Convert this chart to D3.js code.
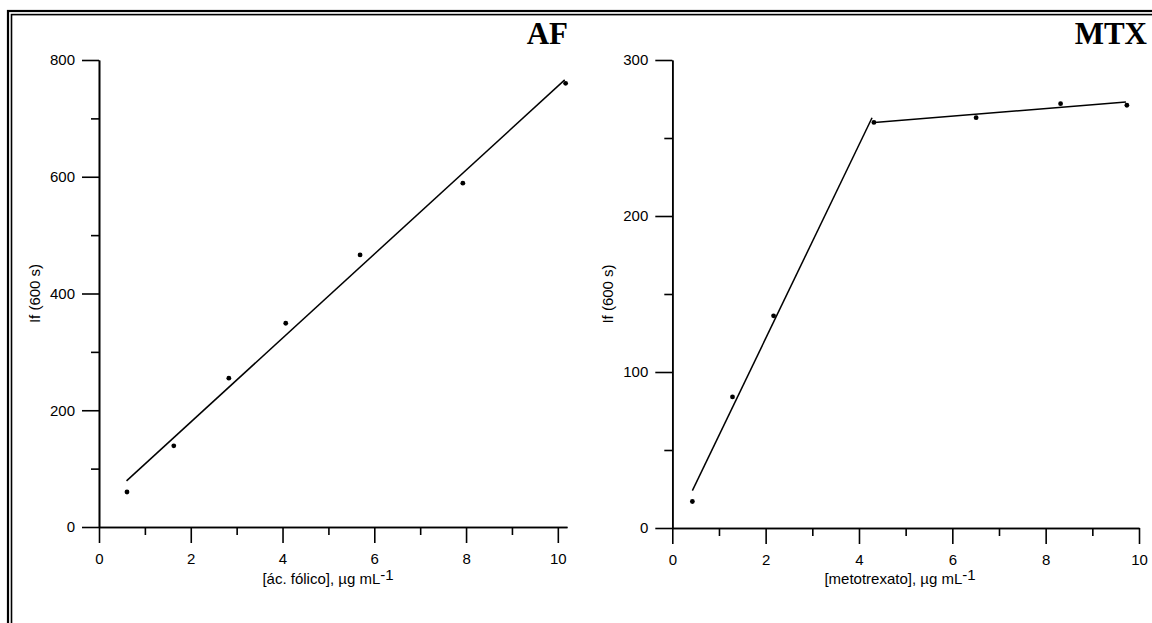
<!DOCTYPE html>
<html><head><meta charset="utf-8">
<script src="https://cdn.jsdelivr.net/npm/d3@7/dist/d3.min.js"></script>
<style>
html,body{margin:0;padding:0;background:#fff;}
svg{display:block;}
</style></head>
<body>
<script>
// ---- data ----
const afX = [0.61, 1.63, 2.83, 4.07, 5.69, 7.93, 10.17];
const afY = [60, 139, 255, 349, 466, 589, 760];
const afFitX = [0.6, 10.15];
const afFitY = [79, 766];

const mtxX = [0.43, 1.29, 2.17, 4.32, 6.51, 8.32, 9.74];
const mtxY = [17, 84, 136, 260, 263, 272, 271];
const mtxFit1X = [0.43, 4.28];
const mtxFit1Y = [24, 263];
const mtxFit2X = [4.33, 9.72];
const mtxFit2Y = [260, 273];

const xTicks = [0, 2, 4, 6, 8, 10];
const xMinor = [1, 3, 5, 7, 9];
const afYTicks = [0, 200, 400, 600, 800];
const afYMinor = [100, 300, 500, 700];
const mtxYTicks = [0, 100, 200, 300];
const mtxYMinor = [50, 150, 250];

const SANS = '"Liberation Sans", Arial, sans-serif';
const SERIF = '"Liberation Serif", "Times New Roman", serif';

const W = 1152, H = 623;
const svg = d3.select("body").append("svg").attr("width", W).attr("height", H);

// double frame
svg.append("rect").attr("x", 8).attr("y", 11).attr("width", 1200).attr("height", 700)
  .attr("fill", "none").attr("stroke", "#000").attr("stroke-width", 2.2);
svg.append("rect").attr("x", 11.5).attr("y", 14.6).attr("width", 1200).attr("height", 700)
  .attr("fill", "none").attr("stroke", "#000").attr("stroke-width", 1.6);

function panel(opt) {
  const g = svg.append("g");
  const x = d3.scaleLinear().domain(opt.xDomain).range(opt.xRange);
  const y = d3.scaleLinear().domain(opt.yDomain).range(opt.yRange);
  const y0 = opt.yRange[0];
  const x0 = opt.xRange[0];

  g.append("g").attr("transform", `translate(0,${y0})`)
    .call(d3.axisBottom(x).tickValues(xMinor).tickSize(8).tickFormat("").tickSizeOuter(0));
  g.append("g").attr("transform", `translate(0,${y0})`)
    .call(d3.axisBottom(x).tickValues(xTicks).tickSize(16).tickPadding(10).tickSizeOuter(0).tickFormat(d3.format("d")));
  g.append("g").attr("transform", `translate(${x0},0)`)
    .call(d3.axisLeft(y).tickValues(opt.yMinor).tickSize(8).tickFormat("").tickSizeOuter(0));
  g.append("g").attr("transform", `translate(${x0},0)`)
    .call(d3.axisLeft(y).tickValues(opt.yTicks).tickSize(17).tickPadding(7).tickSizeOuter(0).tickFormat(d3.format("d")));

  g.selectAll(".domain, .tick line").attr("stroke", "#000").attr("stroke-width", 1.6);
  g.selectAll(".tick text").attr("font-size", 15).attr("fill", "#000").style("font-family", SANS);

  const xt = g.append("text").attr("x", opt.xTitleX).attr("y", 584)
    .attr("text-anchor", "middle").attr("font-size", 15).attr("fill", "#000").style("font-family", SANS);
  xt.append("tspan").text(opt.xTitle);
  xt.append("tspan").attr("dy", -4).text("-1");

  g.append("text").attr("transform", `translate(${opt.yTitleX},${(opt.yRange[0] + opt.yRange[1]) / 2}) rotate(-90)`)
    .attr("text-anchor", "middle").attr("font-size", 15).attr("fill", "#000").style("font-family", SANS).text("If (600 s)");

  g.append("text").attr("x", opt.titleX).attr("y", 44).attr("text-anchor", "end")
    .style("font-family", SERIF).attr("font-weight", "bold")
    .attr("font-size", 31).attr("fill", "#000").text(opt.title);

  const line = d3.line().x(d => x(d[0])).y(d => y(d[1]));
  opt.fits.forEach(f => {
    g.append("path").datum(d3.zip(f[0], f[1])).attr("d", line)
      .attr("fill", "none").attr("stroke", "#000").attr("stroke-width", 1.5);
  });

  g.selectAll("circle.pt").data(d3.zip(opt.px, opt.py)).join("circle")
    .attr("class", "pt").attr("cx", d => x(d[0])).attr("cy", d => y(d[1])).attr("r", 2.4).attr("fill", "#000");
}

panel({
  xDomain: [0, 10.2], xRange: [99, 567],
  yDomain: [0, 800], yRange: [527, 60],
  yTicks: afYTicks, yMinor: afYMinor,
  xTitle: "[ác. fólico], µg mL", xTitleX: 328,
  yTitleX: 40,
  title: "AF", titleX: 568,
  px: afX, py: afY,
  fits: [[afFitX, afFitY]]
});

panel({
  xDomain: [0, 10], xRange: [672.3, 1139],
  yDomain: [0, 300], yRange: [528, 60],
  yTicks: mtxYTicks, yMinor: mtxYMinor,
  xTitle: "[metotrexato], µg mL", xTitleX: 900,
  yTitleX: 613,
  title: "MTX", titleX: 1147,
  px: mtxX, py: mtxY,
  fits: [[mtxFit1X, mtxFit1Y], [mtxFit2X, mtxFit2Y]]
});
</script>
</body></html>
